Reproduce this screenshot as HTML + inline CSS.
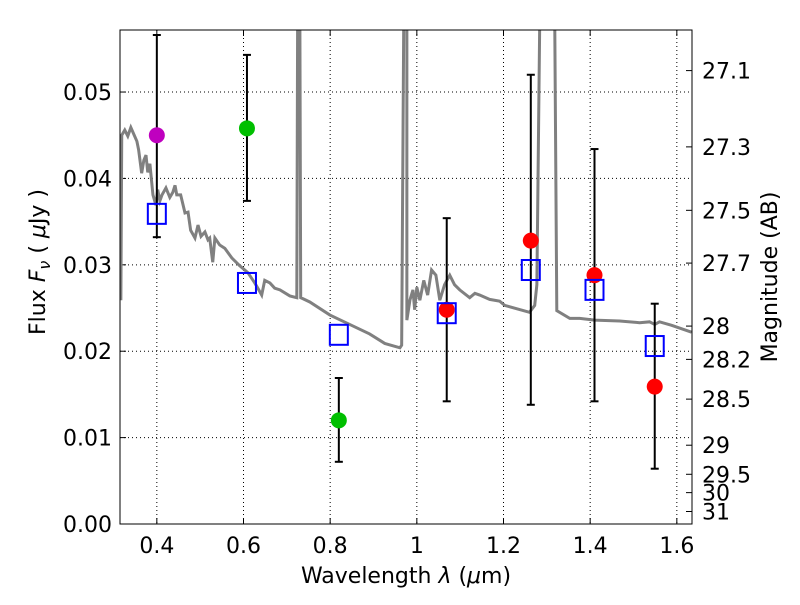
<!DOCTYPE html>
<html><head><meta charset="utf-8"><style>body{margin:0;background:#fff}svg text{font-family:"DejaVu Sans","Liberation Sans",sans-serif}</style></head>
<body>
<svg id="c" width="800" height="600" xmlns="http://www.w3.org/2000/svg"></svg>
<script>
const specLam=[0.317,0.319,0.326,0.333,0.340,0.347,0.354,0.358,0.365,0.370,0.375,0.379,0.384,0.391,0.398,0.402,0.407,0.412,0.421,0.430,0.437,0.442,0.446,0.455,0.465,0.472,0.478,0.488,0.495,0.502,0.511,0.518,0.522,0.529,0.534,0.545,0.557,0.573,0.591,0.610,0.626,0.633,0.642,0.649,0.661,0.672,0.684,0.707,0.723,0.725,0.730,0.732,0.753,0.799,0.845,0.891,0.926,0.961,0.965,0.970,0.977,0.977,0.984,0.991,0.995,1.000,1.007,1.016,1.025,1.034,1.044,1.053,1.064,1.076,1.087,1.099,1.122,1.134,1.145,1.168,1.191,1.203,1.260,1.272,1.277,1.284,1.318,1.323,1.353,1.376,1.410,1.468,1.514,1.537,1.549,1.560,1.588,1.634];
const specFlux=[0.0259,0.0450,0.0456,0.0449,0.0459,0.0451,0.0443,0.0433,0.0406,0.0421,0.0427,0.0407,0.0417,0.0381,0.0369,0.0387,0.0374,0.0381,0.0389,0.0378,0.0384,0.0392,0.0381,0.0381,0.0360,0.0361,0.0340,0.0331,0.0346,0.0333,0.0338,0.0329,0.0331,0.0303,0.0331,0.0323,0.0319,0.0308,0.0299,0.0291,0.0279,0.0273,0.0265,0.0282,0.0279,0.0273,0.0271,0.0264,0.0262,0.060,0.060,0.0262,0.0257,0.0242,0.0231,0.0220,0.0209,0.0204,0.0207,0.060,0.060,0.0236,0.0259,0.0271,0.0248,0.0274,0.0259,0.0282,0.0265,0.0294,0.0288,0.0259,0.0277,0.0288,0.0277,0.0271,0.0262,0.0267,0.0265,0.0260,0.0258,0.0253,0.0245,0.0253,0.0277,0.060,0.060,0.0247,0.0238,0.0238,0.0236,0.0235,0.0233,0.0234,0.0231,0.0234,0.0230,0.0222];
const obsLam=[0.400,0.608,0.820,1.069,1.263,1.410,1.549];
const obsFlux=[0.0450,0.0458,0.0120,0.0248,0.0328,0.0288,0.0159];
const errHi=[0.0566,0.0543,0.0169,0.0354,0.0520,0.0434,0.0255];
const errLo=[0.0332,0.0374,0.0072,0.0142,0.0138,0.0142,0.0064];
const obsColor=["#bf00bf","#00bf00","#00bf00","#ff0000","#ff0000","#ff0000","#ff0000"];
const modelFlux=[0.0359,0.0279,0.0219,0.0244,0.0294,0.0271,0.0206];
const xTicks=[0.4,0.6,0.8,1.0,1.2,1.4,1.6];
const xTickLabels=["0.4","0.6","0.8","1","1.2","1.4","1.6"];
const yTicks=[0,0.01,0.02,0.03,0.04,0.05];
const yTickLabels=["0.00","0.01","0.02","0.03","0.04","0.05"];
const magTicks=[27.1,27.3,27.5,27.7,28,28.2,28.5,29,29.5,30,31];
const magLabels=["27.1","27.3","27.5","27.7","28","28.2","28.5","29","29.5","30","31"];

const L=120,R=692,T=30,B=524,X0=0.315,X1=1.635,Y0=0,Y1=0.05718;
const sx=v=>L+(v-X0)/(X1-X0)*(R-L);
const sy=v=>B-(v-Y0)/(Y1-Y0)*(B-T);
const svg=document.getElementById('c');const NS="http://www.w3.org/2000/svg";
function mk(t,a,p){const e=document.createElementNS(NS,t);for(const k in a)e.setAttribute(k,a[k]);(p||svg).appendChild(e);return e;}
const defs=mk('defs',{});const cp=mk('clipPath',{id:'cp'},defs);mk('rect',{x:L,y:T,width:R-L,height:B-T},cp);
const grid=mk('g',{stroke:'#000','stroke-width':1,'stroke-dasharray':'1,3'});


xTicks.forEach((v,i)=>{const x=sx(v);mk('line',{x1:x,x2:x,y1:T,y2:B},grid);
 mk('line',{x1:x,x2:x,y1:B,y2:B-6,stroke:'#000','stroke-dasharray':'none'},grid);mk('line',{x1:x,x2:x,y1:T,y2:T+6,stroke:'#000','stroke-dasharray':'none'},grid);
 const t=mk('text',{x:x,y:B+29,'text-anchor':'middle','font-size':22});t.textContent=xTickLabels[i];
 
 });
yTicks.forEach((v,i)=>{const y=sy(v);mk('line',{x1:L,x2:R,y1:y,y2:y},grid);
 mk('line',{x1:L,x2:L+6,y1:y,y2:y,stroke:'#000','stroke-dasharray':'none'},grid);
 const t=mk('text',{x:L-8,y:y+8,'text-anchor':'end','font-size':22});t.textContent=yTickLabels[i];
 
 });
magTicks.forEach((m,i)=>{const y=sy(Math.pow(10,(23.9-m)/2.5));
 mk('line',{x1:R,x2:R-6,y1:y,y2:y,stroke:'#000'});
 const t=mk('text',{x:R+10,y:y+8,'font-size':22});t.textContent=magLabels[i];
 
 });
const g=mk('g',{'clip-path':'url(#cp)'});
const sp=mk('polyline',{points:specLam.map((l,i)=>sx(l)+','+sy(specFlux[i])).join(' '),fill:'none',stroke:'#808080','stroke-width':3},g);


obsLam.forEach((l,i)=>{const x=sx(l);
 const e=mk('g',{stroke:'#000','stroke-width':2},g);
 
 
 mk('line',{x1:x,x2:x,y1:sy(errHi[i]),y2:sy(errLo[i])},e);
 mk('line',{x1:x-4,x2:x+4,y1:sy(errHi[i]),y2:sy(errHi[i])},e);
 mk('line',{x1:x-4,x2:x+4,y1:sy(errLo[i]),y2:sy(errLo[i])},e);
 const c=mk('circle',{cx:x,cy:sy(obsFlux[i]),r:8,fill:obsColor[i]},g);
 
 
 const s=mk('rect',{x:x-9,y:sy(modelFlux[i])-10,width:18,height:20,fill:'none',stroke:'#0000ff','stroke-width':2},g);
 
 });
const fr=mk('rect',{x:L,y:T,width:R-L,height:B-T,fill:'none',stroke:'#000','stroke-width':1});


const xl=mk('text',{x:406,y:583,'text-anchor':'middle','font-size':22});xl.innerHTML='Wavelength  <tspan font-style="italic">λ</tspan> (<tspan font-style="italic">μ</tspan>m)';


const yl=mk('text',{x:0,y:0,'text-anchor':'middle','font-size':22,transform:'translate(45,262) rotate(-90)'});yl.innerHTML='Flux  <tspan font-style="italic">F<tspan font-size="16" dy="5">ν</tspan></tspan><tspan dy="-5">  (  <tspan font-style="italic">μ</tspan>Jy )</tspan>';


const yr=mk('text',{x:0,y:0,'text-anchor':'middle','font-size':22,transform:'translate(777,277) rotate(-90)'});yr.textContent='Magnitude (AB)';


</script>
</body></html>
